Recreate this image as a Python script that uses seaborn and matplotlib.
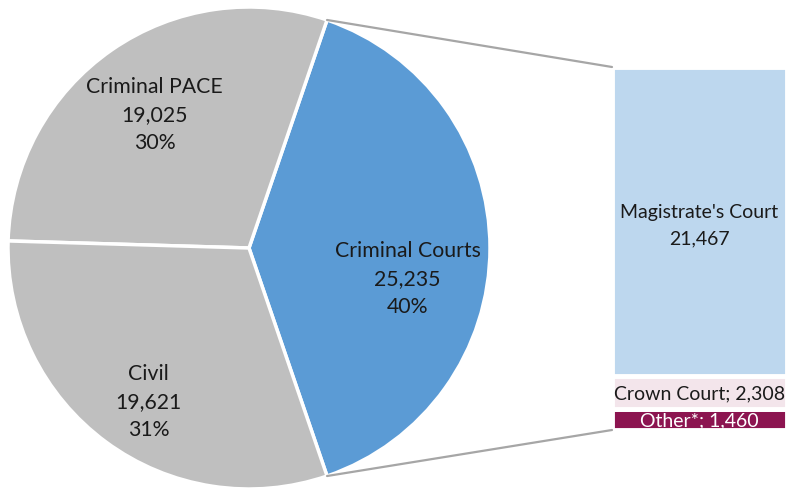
import matplotlib
matplotlib.use("Agg")
import matplotlib.pyplot as plt
import seaborn as sns
import numpy as np
from matplotlib.patches import ConnectionPatch

# pie data
pie_labels = ["Criminal Courts", "Criminal PACE", "Civil"]
pie_values = [25235, 19025, 19621]
pie_pcts = ["40%", "30%", "31%"]
pie_colors = ["#5b9bd5", "#bfbfbf", "#bfbfbf"]

# breakdown of Criminal Courts (bottom to top)
bar_labels = ["Other*", "Crown Court", "Magistrate's Court"]
bar_values = [1460, 2308, 21467]
bar_colors = ["#8c1450", "#f3e5eb", "#bdd7ee"]

sns.set_style("white")
plt.rcParams["font.family"] = ["Lato", "DejaVu Sans"]

W, H = 787, 489
fig = plt.figure(figsize=(W / 100, H / 100), dpi=100)

# pie, bounding box 482x482 px
ax_pie = fig.add_axes([8 / W, -1 / H, 482 / W, 482 / H])
total = sum(pie_values)
start = -360 * pie_values[0] / total / 2
wedges, _ = ax_pie.pie(pie_values, colors=pie_colors, startangle=start,
                       counterclock=True, radius=1,
                       wedgeprops=dict(edgecolor="white", linewidth=2.5))
ax_pie.set_xlim(-1, 1)
ax_pie.set_ylim(-1, 1)
ax_pie.set_aspect("equal")
ax_pie.axis("off")

# label placement: radius and angle shift from the wedge middle
label_r = [0.67, 0.68, 0.76]
label_shift = [-10.7, 0.5, 3.1]
for w, name, val, pct, r, s in zip(wedges, pie_labels, pie_values, pie_pcts,
                                   label_r, label_shift):
    ang = np.deg2rad((w.theta1 + w.theta2) / 2 + s)
    ax_pie.text(r * np.cos(ang), r * np.sin(ang), f"{name}\n{val:,}\n{pct}",
                ha="center", va="center", fontsize=15.3, linespacing=1.5,
                color="#1a1a1a")

# stacked bar
ax_bar = fig.add_axes([612 / W, 58 / H, 175 / W, 363 / H])
bottom = 0
for name, val, col in zip(bar_labels, bar_values, bar_colors):
    ax_bar.bar(0, val, width=1, bottom=bottom, color=col,
               edgecolor="white", linewidth=3.5)
    bottom += val
ax_bar.set_xlim(-0.5, 0.5)
ax_bar.set_ylim(0, sum(bar_values))
ax_bar.axis("off")

mid = bar_values[0] + bar_values[1] + bar_values[2] / 2
ax_bar.text(0, mid - 250, f"{bar_labels[2]}\n{bar_values[2]:,}", ha="center",
            va="center", fontsize=14, linespacing=1.65, color="#1a1a1a")
ax_bar.text(0, bar_values[0] + bar_values[1] / 2,
            f"{bar_labels[1]}; {bar_values[1]:,}", ha="center", va="center",
            fontsize=14, color="#1a1a1a", clip_on=False)
ax_bar.text(0, bar_values[0] / 2, f"{bar_labels[0]}; {bar_values[0]:,}",
            ha="center", va="center", fontsize=14, color="white")

# connector lines
th1 = np.deg2rad(wedges[0].theta1)
th2 = np.deg2rad(wedges[0].theta2)
for th, yb in [(th2, sum(bar_values)), (th1, 0)]:
    con = ConnectionPatch(xyA=(np.cos(th), np.sin(th)), coordsA=ax_pie.transData,
                          xyB=(-0.5, yb), coordsB=ax_bar.transData,
                          color="#a6a6a6", linewidth=1.6)
    fig.add_artist(con)

fig.savefig("out.png", dpi=100)
